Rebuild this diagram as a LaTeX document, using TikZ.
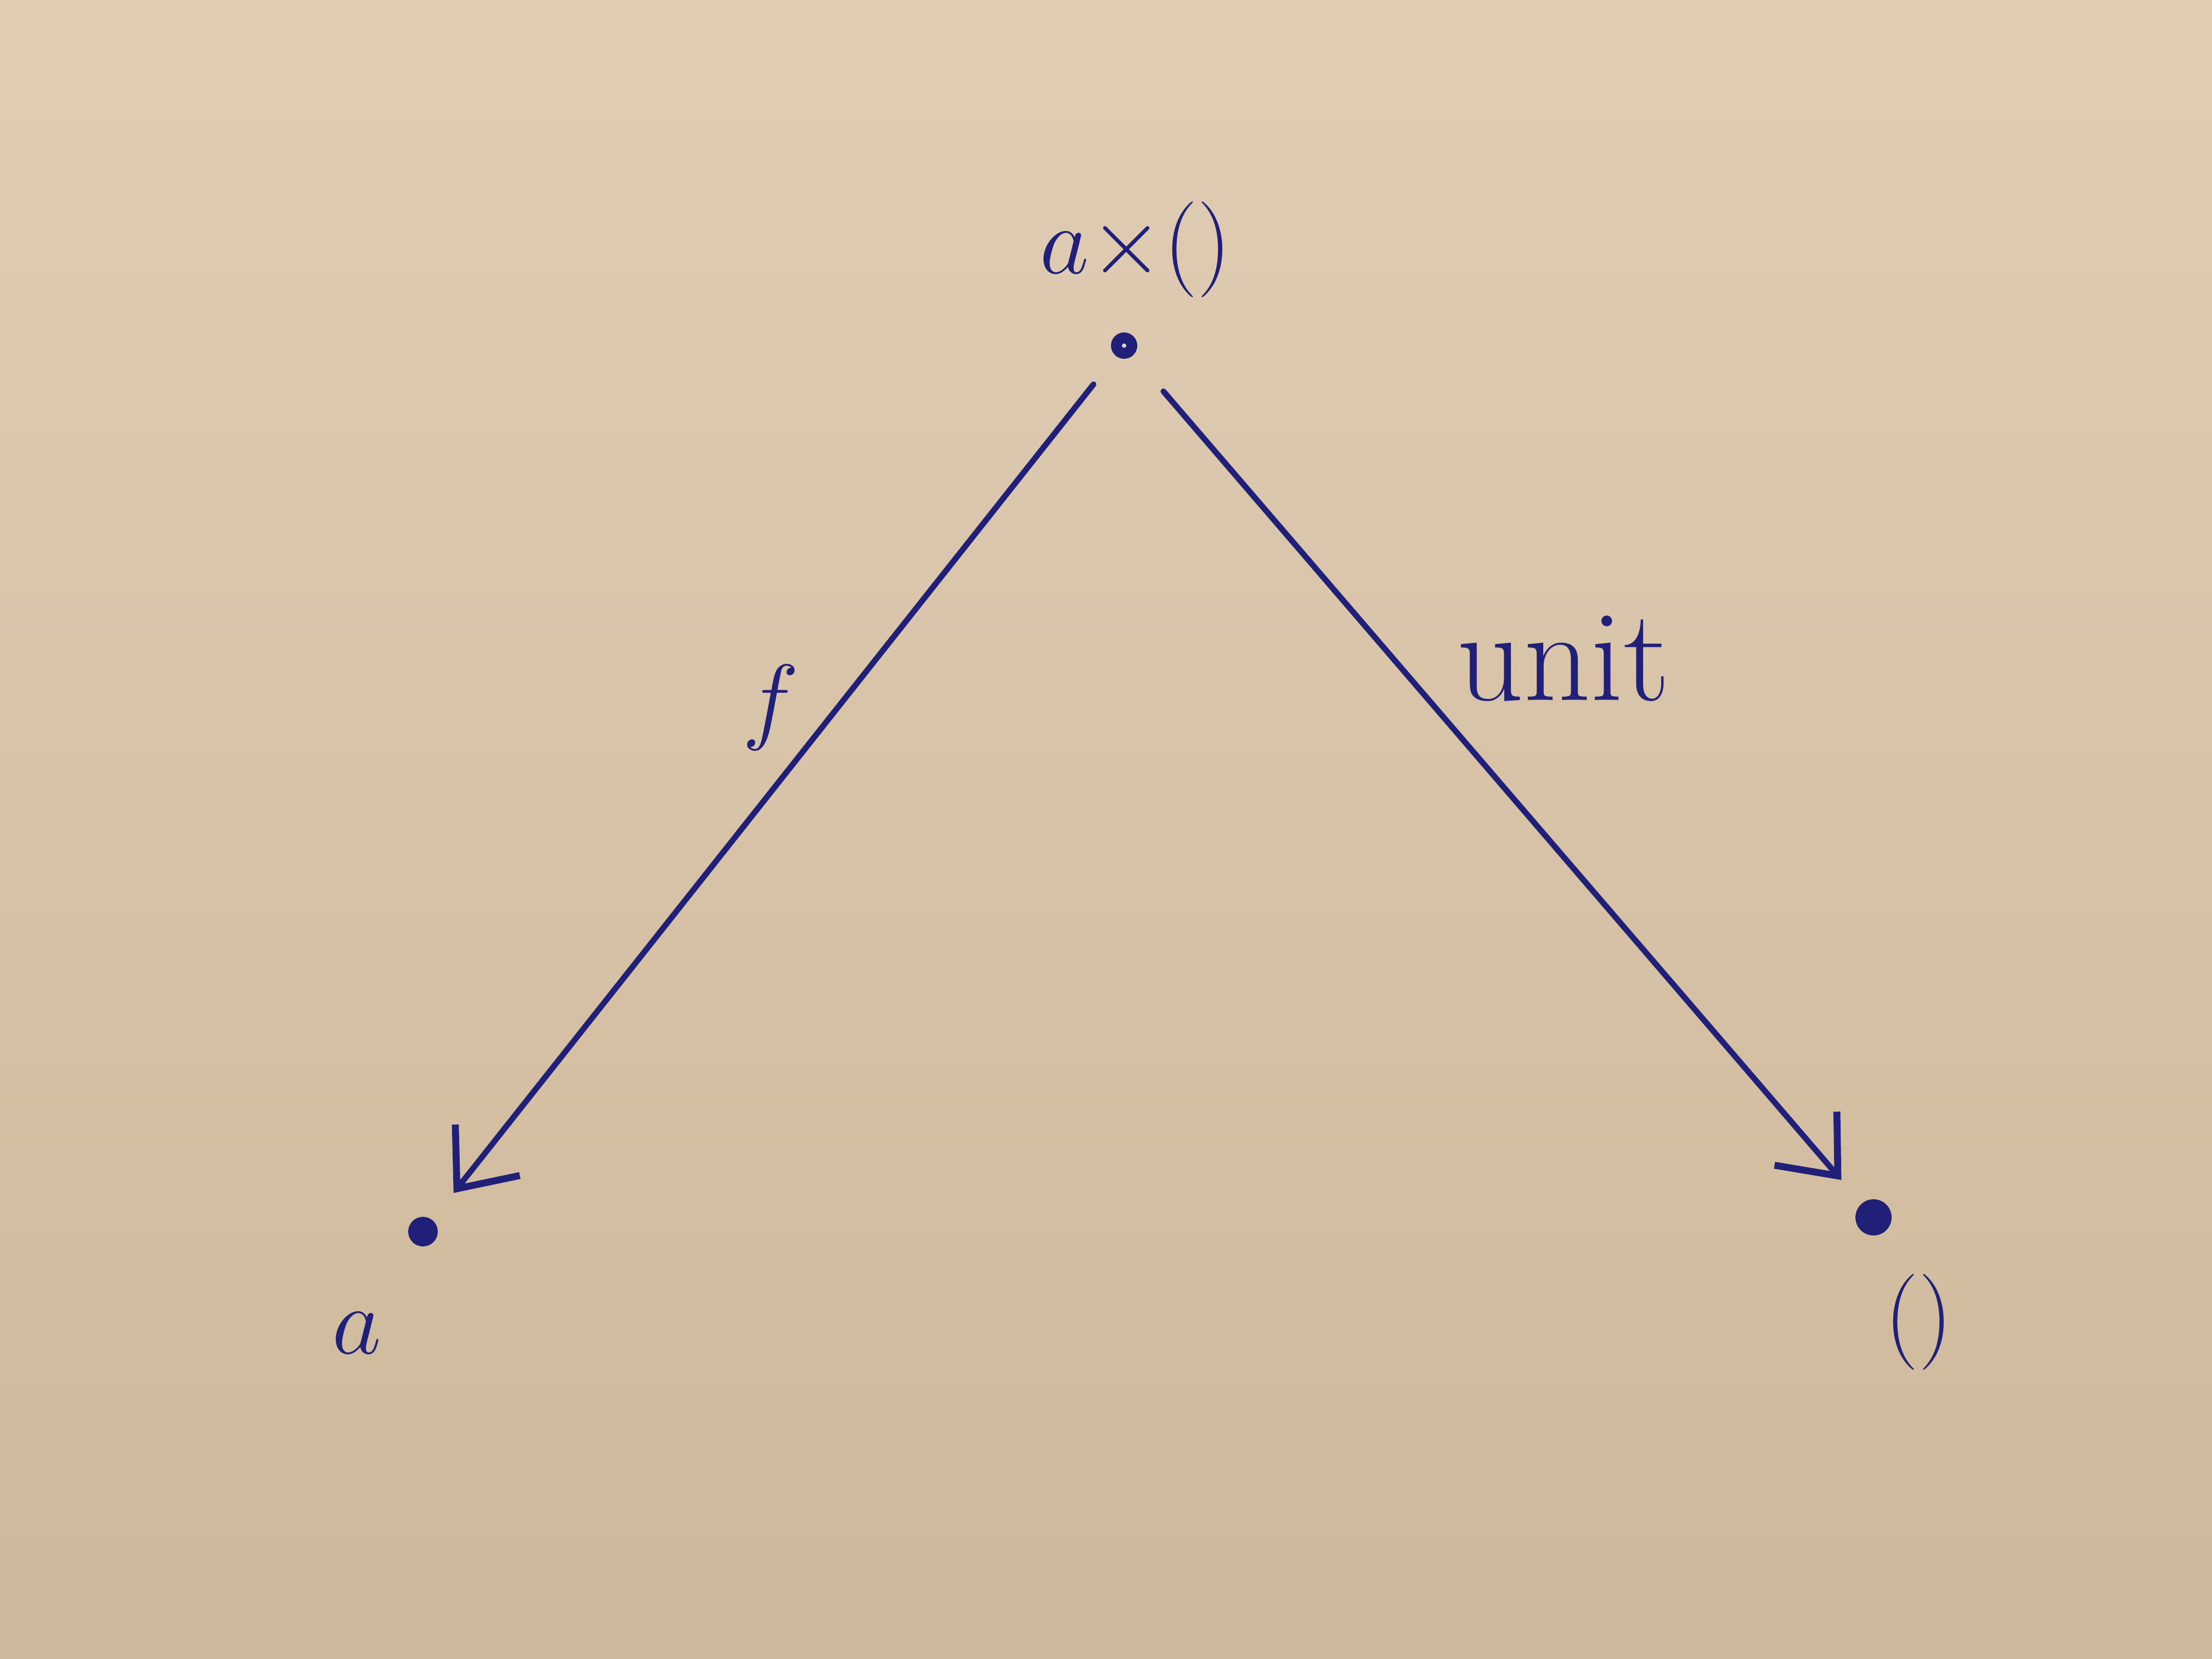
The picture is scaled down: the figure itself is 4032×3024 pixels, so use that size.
\documentclass[tikz,border=0pt]{standalone}
\usetikzlibrary{arrows.meta}
\definecolor{paper}{RGB}{216,196,170}
\definecolor{papertop}{RGB}{224,205,180}
\definecolor{paperbot}{RGB}{206,184,155}
\definecolor{ink}{RGB}{32,32,120}
\begin{document}
\begin{tikzpicture}[x=0.005cm,y=-0.005cm,
  dotnode/.style={circle,fill=ink,draw=none,inner sep=0pt,minimum size=#1},
  lbl/.style={text=ink,font=\fontsize{34}{40}\selectfont,inner sep=0pt},
  arr/.style={draw=ink,line width=1.5pt,line cap=round,
    -{Straight Barb[length=0.45cm,width=0.75cm,line width=1.8pt]}}]
  \shade[top color=papertop,bottom color=paperbot] (0,0) rectangle (4032,3024);
  \useasboundingbox (0,0) rectangle (4032,3024);
  % dots
  \node[dotnode=0.24cm] (top) at (2049,630) {};
  \fill[paper!70!white] (top.center) circle (0.02cm);
  \node[dotnode=0.27cm] (left) at (771,2245) {};
  \node[dotnode=0.33cm] (right) at (3415,2219) {};
  % labels
  \node[lbl] (toplabel) at (2070,455) {$a{\times}()$};
  \node[lbl] (alabel) at (650,2430) {$a$};
  \node[lbl] (unitlabel) at (3497,2410) {$()$};
  \node[lbl] (flabel) at (1405,1290) {$f$};
  \node[lbl] (ulabel) at (2850,1200) {unit};
  % arrows
  \draw[arr,shorten <=0.45cm,shorten >=0.45cm] (top.center) -- (left.center);
  \draw[arr,shorten <=0.55cm,shorten >=0.45cm] (top.center) -- (right.center);
\end{tikzpicture}
\end{document}
